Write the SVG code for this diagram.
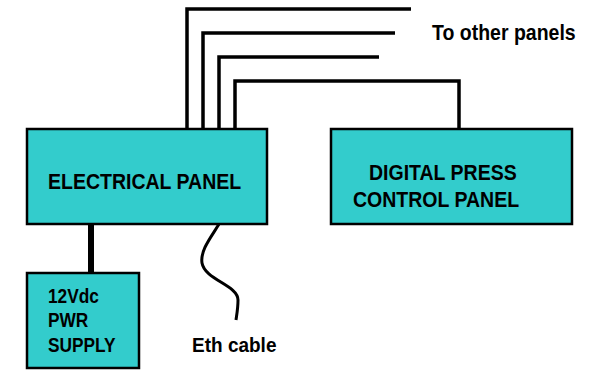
<svg xmlns="http://www.w3.org/2000/svg" width="598" height="370" viewBox="0 0 598 370">
<style>
.box{fill:#33CCCC;stroke:#000;stroke-width:2.5}
.t{font-family:"Liberation Sans",Arial,sans-serif;font-size:19.5px;font-weight:bold;fill:#000}
.s{font-size:17.3px}
.w{fill:none;stroke:#000;stroke-width:3.5;stroke-linecap:butt;stroke-linejoin:miter}
</style>
<rect width="598" height="370" fill="#fff"/>
<g id="connectors">
<path class="w" d="M187,129 V9 H411"/>
<path class="w" d="M203,129 V33 H395"/>
<path class="w" d="M219,129 V57 H379"/>
<path class="w" d="M235,129 V81 H459 V129"/>
<path d="M91,224 V273" fill="none" stroke="#000" stroke-width="6"/>
<path d="M219,224 C212,236 200,250 202,263 C205,280 238,285 238,300 C238,308 237,313 236,320" fill="none" stroke="#000" stroke-width="3"/>
</g>
<g id="electrical-panel">
<rect class="box" x="27" y="129" width="240" height="95"/>
<text class="t" transform="translate(48,189) scale(1,1.13)">ELECTRICAL PANEL</text>
</g>
<g id="digital-press-control-panel">
<rect class="box" x="331" y="129" width="241" height="95"/>
<text class="t" transform="translate(369,180) scale(1,1.13)">DIGITAL PRESS</text>
<text class="t" transform="translate(353,207) scale(1,1.13)">CONTROL PANEL</text>
</g>
<g id="power-supply">
<rect class="box" x="27" y="273" width="112" height="95"/>
<text class="t s" transform="translate(48,303) scale(1,1.13)">12Vdc</text>
<text class="t s" transform="translate(48,327) scale(1,1.13)">PWR</text>
<text class="t s" transform="translate(48,352) scale(1,1.13)">SUPPLY</text>
</g>
<text class="t" transform="translate(432,40) scale(1,1.1)">To other panels</text>
<text class="t" transform="translate(192,352) scale(1,1.1)" style="font-size:19px">Eth cable</text>
</svg>
